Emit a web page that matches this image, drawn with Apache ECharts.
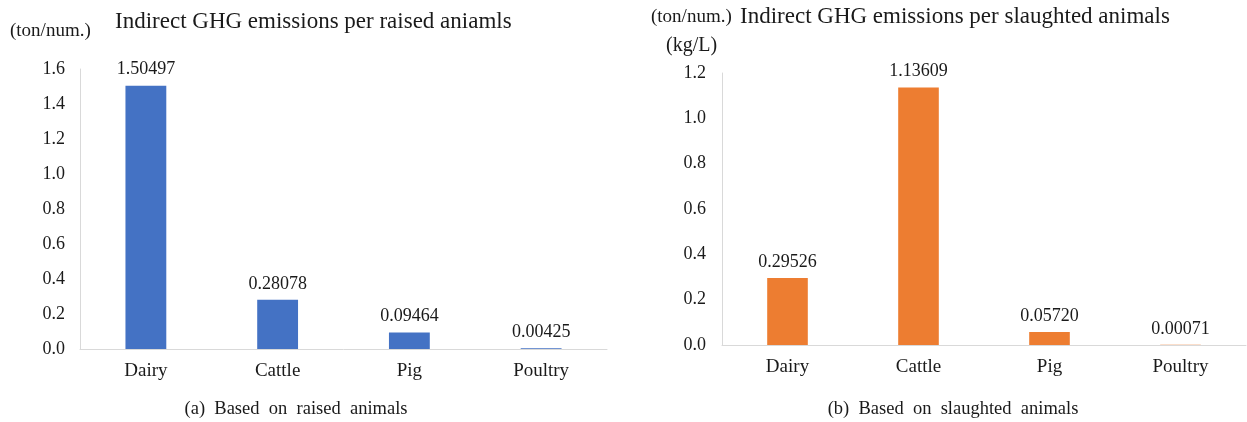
<!DOCTYPE html>
<html>
<head>
<meta charset="utf-8">
<script src="https://cdn.jsdelivr.net/npm/echarts@6/dist/echarts.min.js"></script>
<style>
  html, body { margin: 0; padding: 0; background: #fff; }
  #chart { width: 1247px; height: 422px; }
</style>
</head>
<body>
<div id="chart"></div>
<script>
// Categories shared by both panels
const categories = ['Dairy', 'Cattle', 'Pig', 'Poultry'];
// Indirect GHG emissions per raised animal (ton/num.)
const raisedValues = [1.50497, 0.28078, 0.09464, 0.00425];
// Indirect GHG emissions per slaughtered animal (ton/num., kg/L for dairy)
const slaughteredValues = [0.29526, 1.13609, 0.05720, 0.00071];

const FONT = '"Liberation Serif", "DejaVu Serif", serif';
const TEXT = '#1a1a1a';

const chart = echarts.init(document.getElementById('chart'), null, { renderer: 'canvas' });

function xAxisFor(gridIndex) {
  return {
    type: 'category',
    gridIndex: gridIndex,
    data: categories,
    axisLine: { lineStyle: { color: '#d9d9d9', width: 1 } },
    axisTick: { show: false },
    axisLabel: { color: TEXT, fontFamily: FONT, fontSize: 19, margin: 13 }
  };
}

function yAxisFor(gridIndex, max, margin) {
  return {
    type: 'value',
    gridIndex: gridIndex,
    min: 0,
    max: max,
    interval: 0.2,
    axisLine: { show: true, lineStyle: { color: '#d9d9d9', width: 1 } },
    axisTick: { show: false },
    splitLine: { show: false },
    axisLabel: {
      color: TEXT, fontFamily: FONT, fontSize: 18, margin: margin,
      formatter: v => v.toFixed(1)
    }
  };
}

function barSeries(idx, values, color) {
  return {
    type: 'bar',
    xAxisIndex: idx,
    yAxisIndex: idx,
    data: values,
    barWidth: '31%',
    itemStyle: { color: color },
    label: {
      show: true,
      position: 'top',
      distance: 7,
      color: TEXT,
      fontFamily: FONT,
      fontSize: 18,
      formatter: p => p.value.toFixed(5)
    }
  };
}

const textStyle = (size) => ({ color: TEXT, fontFamily: FONT, fontSize: size, fontWeight: 'normal' });

chart.setOption({
  animation: false,
  title: [
    { text: 'Indirect GHG emissions per raised aniamls', left: 115, top: 10, padding: 0, textStyle: textStyle(23) },
    { text: '(ton/num.)', left: 10, top: 22, padding: 0, textStyle: textStyle(19) },
    { text: '(ton/num.)', left: 651, top: 8, padding: 0, textStyle: textStyle(19) },
    { text: 'Indirect GHG emissions per slaughted animals', left: 740, top: 5, padding: 0, textStyle: textStyle(23) },
    { text: '(kg/L)', left: 666, top: 36, padding: 0, textStyle: textStyle(20) },
    { text: '(a)  Based  on  raised  animals', left: 296, textAlign: 'center', top: 400, padding: 0, textStyle: textStyle(18.5) },
    { text: '(b)  Based  on  slaughted  animals', left: 953, textAlign: 'center', top: 400, padding: 0, textStyle: textStyle(18.5) }
  ],
  grid: [
    { left: 80, right: 640, top: 69, bottom: 73 },
    { left: 722, right: 1, top: 73, bottom: 77 }
  ],
  xAxis: [xAxisFor(0), xAxisFor(1)],
  yAxis: [yAxisFor(0, 1.6, 15), yAxisFor(1, 1.2, 16)],
  series: [
    barSeries(0, raisedValues, '#4472c4'),
    barSeries(1, slaughteredValues, '#ed7d31')
  ]
});
</script>
</body>
</html>
